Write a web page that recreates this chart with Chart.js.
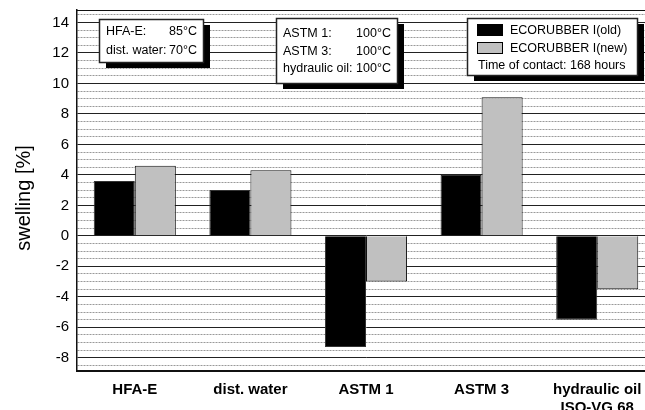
<html>
<head>
  <meta charset="UTF-8">
  <script src="https://cdn.jsdelivr.net/npm/chart.js@4.4.0/dist/chart.umd.min.js"></script>
  <style>
    body { margin: 0; background: #fff; }
    #wrap { width: 645px; height: 410px; overflow: hidden; }
  </style>
</head>
<body>
  <div id="wrap"><canvas id="chart" width="660" height="410"></canvas></div>
  <script>
    // values
    const categories = ['HFA-E', 'dist. water', 'ASTM 1', 'ASTM 3', ['hydraulic oil', 'ISO-VG 68']];
    const oldValues = [3.6, 3.0, -7.3, 4.0, -5.5];
    const newValues = [4.6, 4.3, -3.0, 9.1, -3.5];
    const yTickLabels = [-8, -6, -4, -2, 0, 2, 4, 6, 8, 10, 12, 14];
    const yMinorStep = 0.5;
    const yMin = -8.85;
    const yMax = 14.82;

    const FONT = '"Liberation Sans", Arial, sans-serif';

    // major + dotted minor tick values
    const yTicks = [];
    for (let v = yTickLabels[0] - yMinorStep; v <= yTickLabels[yTickLabels.length - 1] + yMinorStep + 1e-9; v += yMinorStep) {
      yTicks.push(Math.round(v * 10) / 10);
    }
    const isMajor = v => yTickLabels.indexOf(v) !== -1;

    // text boxes with drop shadow
    const boxes = [
      { x: 99, y: 19, w: 104, h: 43, rows: [['HFA-E:', '85°C', 32], ['dist. water:', '70°C', 51]] },
      { x: 276, y: 18, w: 121, h: 65, rows: [['ASTM 1:', '100°C', 34], ['ASTM 3:', '100°C', 52], ['hydraulic oil:', '100°C', 69]] }
    ];

    const boxPlugin = {
      id: 'boxes',
      afterDraw(chart) {
        const ctx = chart.ctx;
        const a = chart.chartArea;
        ctx.save();
        // top frame line
        ctx.strokeStyle = '#111';
        ctx.lineWidth = 1;
        ctx.beginPath();
        ctx.moveTo(a.left, a.top + 0.5);
        ctx.lineTo(a.right, a.top + 0.5);
        ctx.stroke();

        ctx.font = '12.5px ' + FONT;
        ctx.textBaseline = 'middle';
        const drawBox = (x, y, w, h) => {
          ctx.fillStyle = '#000';
          ctx.fillRect(x + 7, y + 6, w, h);
          ctx.fillStyle = '#fff';
          ctx.fillRect(x, y, w, h);
          ctx.strokeStyle = '#222';
          ctx.lineWidth = 1.5;
          ctx.strokeRect(x + 0.5, y + 0.5, w, h);
        };
        boxes.forEach(b => {
          drawBox(b.x, b.y, b.w, b.h);
          ctx.fillStyle = '#000';
          b.rows.forEach(r => {
            ctx.textAlign = 'left';
            ctx.fillText(r[0], b.x + 7, r[2]);
            ctx.textAlign = 'right';
            ctx.fillText(r[1], b.x + b.w - 6, r[2]);
          });
        });

        // legend box
        drawBox(467, 18, 170, 57);
        const ds = chart.data.datasets;
        const rowsY = [30, 48];
        ds.forEach((d, i) => {
          ctx.fillStyle = d.backgroundColor;
          ctx.fillRect(477, rowsY[i] - 6, 26, 12);
          ctx.strokeStyle = '#000';
          ctx.lineWidth = 1;
          ctx.strokeRect(477.5, rowsY[i] - 5.5, 25, 11);
          ctx.fillStyle = '#000';
          ctx.textAlign = 'left';
          ctx.fillText(d.label, 510, rowsY[i] + 0.5);
        });
        ctx.fillText('Time of contact: 168 hours', 478, 65.5);

        // y axis title
        ctx.translate(24, 198);
        ctx.rotate(-Math.PI / 2);
        ctx.font = '20px ' + FONT;
        ctx.textAlign = 'center';
        ctx.fillText('swelling [%]', 0, 0);
        ctx.restore();
      }
    };

    new Chart(document.getElementById('chart'), {
      type: 'bar',
      data: {
        labels: categories,
        datasets: [
          { label: 'ECORUBBER I(old)', data: oldValues, backgroundColor: '#000000', borderColor: '#333333', borderWidth: 1 },
          { label: 'ECORUBBER I(new)', data: newValues, backgroundColor: '#c0c0c0', borderColor: '#111111', borderWidth: 1 }
        ]
      },
      options: {
        responsive: false,
        animation: false,
        layout: { padding: { left: 0, right: 5, top: 10, bottom: 0 } },
        datasets: { bar: { categoryPercentage: 0.71, barPercentage: 1.0 } },
        plugins: { legend: { display: false }, tooltip: { enabled: false } },
        scales: {
          x: {
            grid: { display: false },
            border: { color: '#111', width: 2 },
            ticks: { color: '#000', font: { family: FONT, size: 15, weight: 'bold' }, padding: 2, maxRotation: 0, autoSkip: false },
            afterFit: s => { s.height = 39.3; s.paddingLeft = 0; s.paddingRight = 0; }
          },
          y: {
            min: yMin,
            max: yMax,
            afterBuildTicks: s => { s.ticks = yTicks.map(v => ({ value: v })); },
            afterFit: s => { s.width = 77; s.paddingTop = 0; s.paddingBottom = 0; },
            grid: {
              drawTicks: false,
              color: c => (c.tick && !isMajor(c.tick.value)) ? '#999' : '#222',
              lineWidth: 1
            },
            border: {
              color: '#111',
              width: 1.5,
              dash: c => (c.tick && !isMajor(c.tick.value)) ? [2, 1] : []
            },
            ticks: {
              color: '#000',
              padding: 8,
              font: { family: FONT, size: 15 },
              autoSkip: false,
              callback: v => isMajor(v) ? v : ''
            }
          }
        }
      },
      plugins: [boxPlugin]
    });
  </script>
</body>
</html>
